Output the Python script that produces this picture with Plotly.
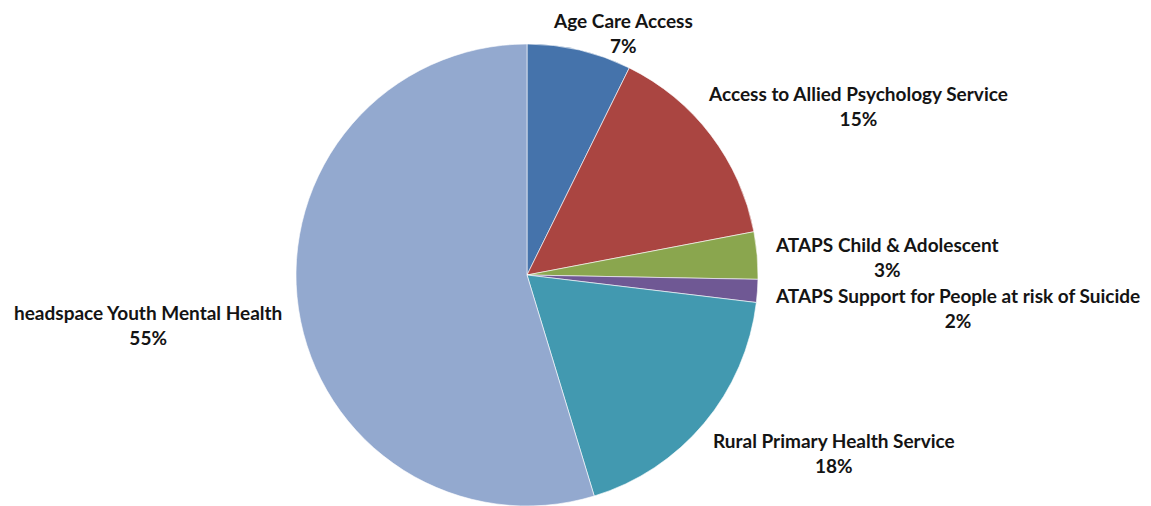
import plotly.graph_objects as go

labels = ["Age Care Access", "Access to Allied Psychology Service", "ATAPS Child & Adolescent",
          "ATAPS Support for People at risk of Suicide", "Rural Primary Health Service",
          "headspace Youth Mental Health"]
values = [7.3, 14.7, 3.3, 1.6, 18.4, 54.7]
colors = ["#4573AB", "#AA4541", "#8AA64E", "#6F5894", "#4299B0", "#93A9CF"]

# page offsets the figure by 8px; layout coordinates compensated
OFF = 8
W, H = 1151 - OFF, 506 - OFF
cx, cy, r = 527 - OFF, 275 - OFF, 231
label_pos = [(623, None), (858, 106), (887, 257), (957, 308), (834, 453), (148, 325)]

fig = go.Figure(go.Pie(
    labels=labels, values=values, sort=False, direction="clockwise", rotation=0,
    marker=dict(colors=colors, line=dict(color="white", width=0.6)),
    textinfo="none", hoverinfo="label+percent", showlegend=False,
    domain=dict(x=[(cx - r) / W, (cx + r) / W], y=[(H - cy - r) / H, (H - cy + r) / H]),
))

total = sum(values)
for lab, v, (px, py) in zip(labels, values, label_pos):
    if py is None:
        yy, ya = 1.0, "top"
    else:
        yy, ya = 1 - (py - OFF) / H, "middle"
    fig.add_annotation(
        x=(px - OFF) / W, y=yy, xref="paper", yref="paper",
        text=f"{lab}<br>{round(v / total * 100)}%", showarrow=False,
        xanchor="center", yanchor=ya, align="center", borderpad=0,
        font=dict(family="Lato", size=19, color="#141414", weight="bold"),
    )

fig.update_layout(
    width=W, height=H, margin=dict(l=0, r=0, t=0, b=0),
    paper_bgcolor="white", plot_bgcolor="white",
)
fig.write_html("out.html")
